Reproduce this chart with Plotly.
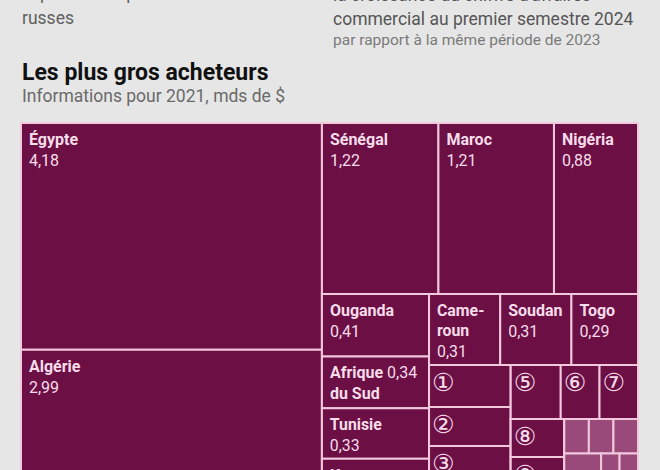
import plotly.graph_objects as go

# ---------------- data (Russian exports to Africa, 2021, bn $) ----------------
countries = ["Égypte", "Algérie", "Sénégal", "Maroc", "Nigéria",
             "Ouganda", "Afrique du Sud", "Tunisie", "Kenya",
             "Cameroun", "Soudan", "Togo"]
country_values = [4.18, 2.99, 1.22, 1.21, 0.88,
                  0.41, 0.34, 0.33, 0.35,
                  0.31, 0.31, 0.29]
country_block = ["A", "A", "B1", "B1", "B1",
                 "C1", "C1", "C1", "C1",
                 "D1", "D1", "D1"]

numbered_labels = ["①", "②", "③", "④", "⑤", "⑥", "⑦", "⑧", "⑨", "⑩"]
numbered_values = [0.21, 0.195, 0.175, 0.155, 0.165, 0.128, 0.127, 0.125, 0.118, 0.062]
numbered_block = ["E1", "E1", "E1", "E1", "F1", "F1", "F1", "G1", "G1", "G1"]

others_values = [0.052, 0.052, 0.052, 0.132, 0.066, 0.066]
others_block = ["H1", "H1", "H1", "H2", "H2", "H2"]

# nested blocks that reproduce the slice/dice arrangement of the infographic
blocks = ["root", "A", "B", "B1", "B2", "C1", "C2", "D1", "D2",
          "E1", "E2", "F1", "F2", "G1", "G2", "H1", "H2"]
block_parents = ["", "root", "root", "B", "B", "B2", "B2", "C2", "C2",
                 "D2", "D2", "E2", "E2", "F2", "F2", "G2", "G2"]

# ---------------- styling ----------------
BG = "#e6e6e6"
DARK = "#6b0f45"
LIGHT = "#9a4a7a"
EDGE = "#f2c8dc"
TXT = "#f7dcea"
FONT = "Roboto"
NB = "\u00a0"
PAD = f'<span style="font-size:20px">{NB}</span>'

def fmt(v):
    return f"{v:.2f}".replace(".", ",")

special = {
    "Afrique du Sud": "{p}<b>Afrique</b> {v}<br>{p}<b>du Sud</b>",
    "Cameroun": "{p}<b>Came-</b><br>{p}<b>roun</b><br>{p}{v}",
}

ids, labels, parents, vals, texts, colors, sizes, fams = [], [], [], [], [], [], [], []
for b, p in zip(blocks, block_parents):
    ids.append(b); labels.append(""); parents.append(p); vals.append(0)
    texts.append(""); colors.append(DARK); sizes.append(16); fams.append(FONT)
for c, v, b in zip(countries, country_values, country_block):
    ids.append(c); labels.append(c); parents.append(b); vals.append(v)
    tpl = special.get(c, "{p}<b>{n}</b><br>{p}{v}")
    texts.append(tpl.format(n=c, v=fmt(v), p=PAD)); colors.append(DARK)
    sizes.append(16); fams.append(FONT)
for n, v, b in zip(numbered_labels, numbered_values, numbered_block):
    ids.append("n" + n); labels.append(n); parents.append(b); vals.append(v)
    texts.append(n); colors.append(DARK); sizes.append(25); fams.append("DejaVu Sans")
for i, (v, b) in enumerate(zip(others_values, others_block)):
    ids.append(f"o{i}"); labels.append(""); parents.append(b); vals.append(v)
    texts.append(""); colors.append(LIGHT); sizes.append(16); fams.append(FONT)

W, H = 660, 515
def px(x): return x / W
def py(y): return 1 - y / H

fig = go.Figure(go.Treemap(
    ids=ids, labels=labels, parents=parents, values=vals,
    branchvalues="remainder", sort=False,
    text=texts, texttemplate="%{text}", textposition="top left",
    textfont=dict(family=fams, size=sizes, color=TXT),
    marker=dict(colors=colors, depthfade=False,
                line=dict(color=EDGE, width=2),
                pad=dict(t=0, l=0, r=0, b=0)),
    tiling=dict(packing="slice-dice", pad=0),
    pathbar=dict(visible=False),
    hoverinfo="skip",
    domain=dict(x=[px(21), px(638)], y=[py(512), py(123)]),
))

def ann(text, x, y, size, color, bold=False):
    fig.add_annotation(text=f"<b>{text}</b>" if bold else text,
                       x=px(x), y=py(y), xref="paper", yref="paper",
                       xanchor="left", yanchor="middle", showarrow=False,
                       font=dict(family=FONT, size=size, color=color))

ann("la part des exportations", 20, -7, 17.5, "#606060")
ann("russes", 20, 18, 17.5, "#606060")
ann("la croissance du chiffre d'affaires", 331, -5, 17.5, "#555555")
ann("commercial au premier semestre 2024", 331, 19, 17.5, "#555555")
ann("par rapport à la même période de 2023", 331, 40, 15.5, "#7a7a7a")
ann("Les plus gros acheteurs", 20, 72, 23, "#111111", bold=True)
ann("Informations pour 2021, mds de $", 20, 96, 17.5, "#6a6a6a")

fig.update_layout(width=W, height=H, margin=dict(l=0, r=0, t=0, b=0),
                  paper_bgcolor=BG, plot_bgcolor=BG, showlegend=False)

post = ("var gd=document.getElementById('{plot_id}');"
        "document.body.style.margin='0';"
        "gd.parentElement.style.height='470px';"
        "gd.parentElement.style.overflow='hidden';")
fig.write_html("out.html", post_script=post, config={"displayModeBar": False})
